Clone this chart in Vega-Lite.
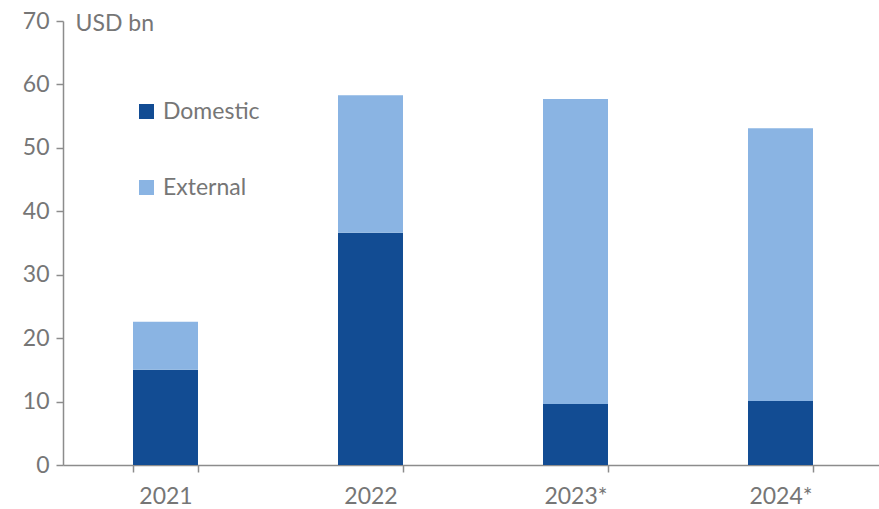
{
  "$schema": "https://vega.github.io/schema/vega-lite/v6.json",
  "width": 820,
  "height": 444,
  "autosize": {"type": "none"},
  "padding": {"left": 63, "top": 21, "right": 0, "bottom": 44},
  "background": "white",
  "config": {
    "view": {"stroke": null},
    "font": "Lato",
    "axis": {"labelFont": "Lato", "titleFont": "Lato"}
  },
  "data": {
    "values": [
      {"year": "2021", "type": "Domestic", "value": 15.0},
      {"year": "2021", "type": "External", "value": 7.6},
      {"year": "2022", "type": "Domestic", "value": 36.6},
      {"year": "2022", "type": "External", "value": 21.7},
      {"year": "2023*", "type": "Domestic", "value": 9.6},
      {"year": "2023*", "type": "External", "value": 48.1},
      {"year": "2024*", "type": "Domestic", "value": 10.1},
      {"year": "2024*", "type": "External", "value": 43.0}
    ]
  },
  "mark": {"type": "bar"},
  "encoding": {
    "x": {
      "field": "year",
      "type": "nominal",
      "sort": null,
      "scale": {"paddingInner": 0.683, "paddingOuter": 0.3415},
      "axis": {
        "title": null,
        "labelAngle": 0,
        "labelFontSize": 23,
        "labelColor": "#767676",
        "labelPadding": 13,
        "tickBand": "extent",
        "tickSize": 7,
        "tickColor": "#8c8c8c",
        "domainColor": "#8c8c8c",
        "domainWidth": 1.5,
        "tickWidth": 1.5
      }
    },
    "y": {
      "field": "value",
      "type": "quantitative",
      "stack": "zero",
      "scale": {"domain": [0, 70]},
      "axis": {
        "values": [0, 10, 20, 30, 40, 50, 60, 70],
        "grid": false,
        "title": "USD bn",
        "titleAngle": 0,
        "titleAlign": "left",
        "titleBaseline": "middle",
        "titleX": 12,
        "titleY": 2,
        "titleFontSize": 23,
        "titleFontWeight": "normal",
        "titleColor": "#767676",
        "labelFontSize": 23,
        "labelColor": "#767676",
        "labelPadding": 7,
        "tickSize": 7,
        "tickColor": "#8c8c8c",
        "domainColor": "#8c8c8c",
        "domainWidth": 1.5,
        "tickWidth": 1.5
      }
    },
    "color": {
      "field": "type",
      "type": "nominal",
      "scale": {"domain": ["Domestic", "External"], "range": ["#124C93", "#8AB4E3"]},
      "legend": {
        "title": null,
        "orient": "none",
        "legendX": 72,
        "legendY": 79,
        "padding": 0,
        "symbolType": "square",
        "symbolSize": 225,
        "symbolStrokeWidth": 0,
        "labelFontSize": 23,
        "labelColor": "#767676",
        "labelOffset": 5,
        "rowPadding": 52
      }
    },
    "order": {"field": "type", "sort": "ascending"}
  }
}
